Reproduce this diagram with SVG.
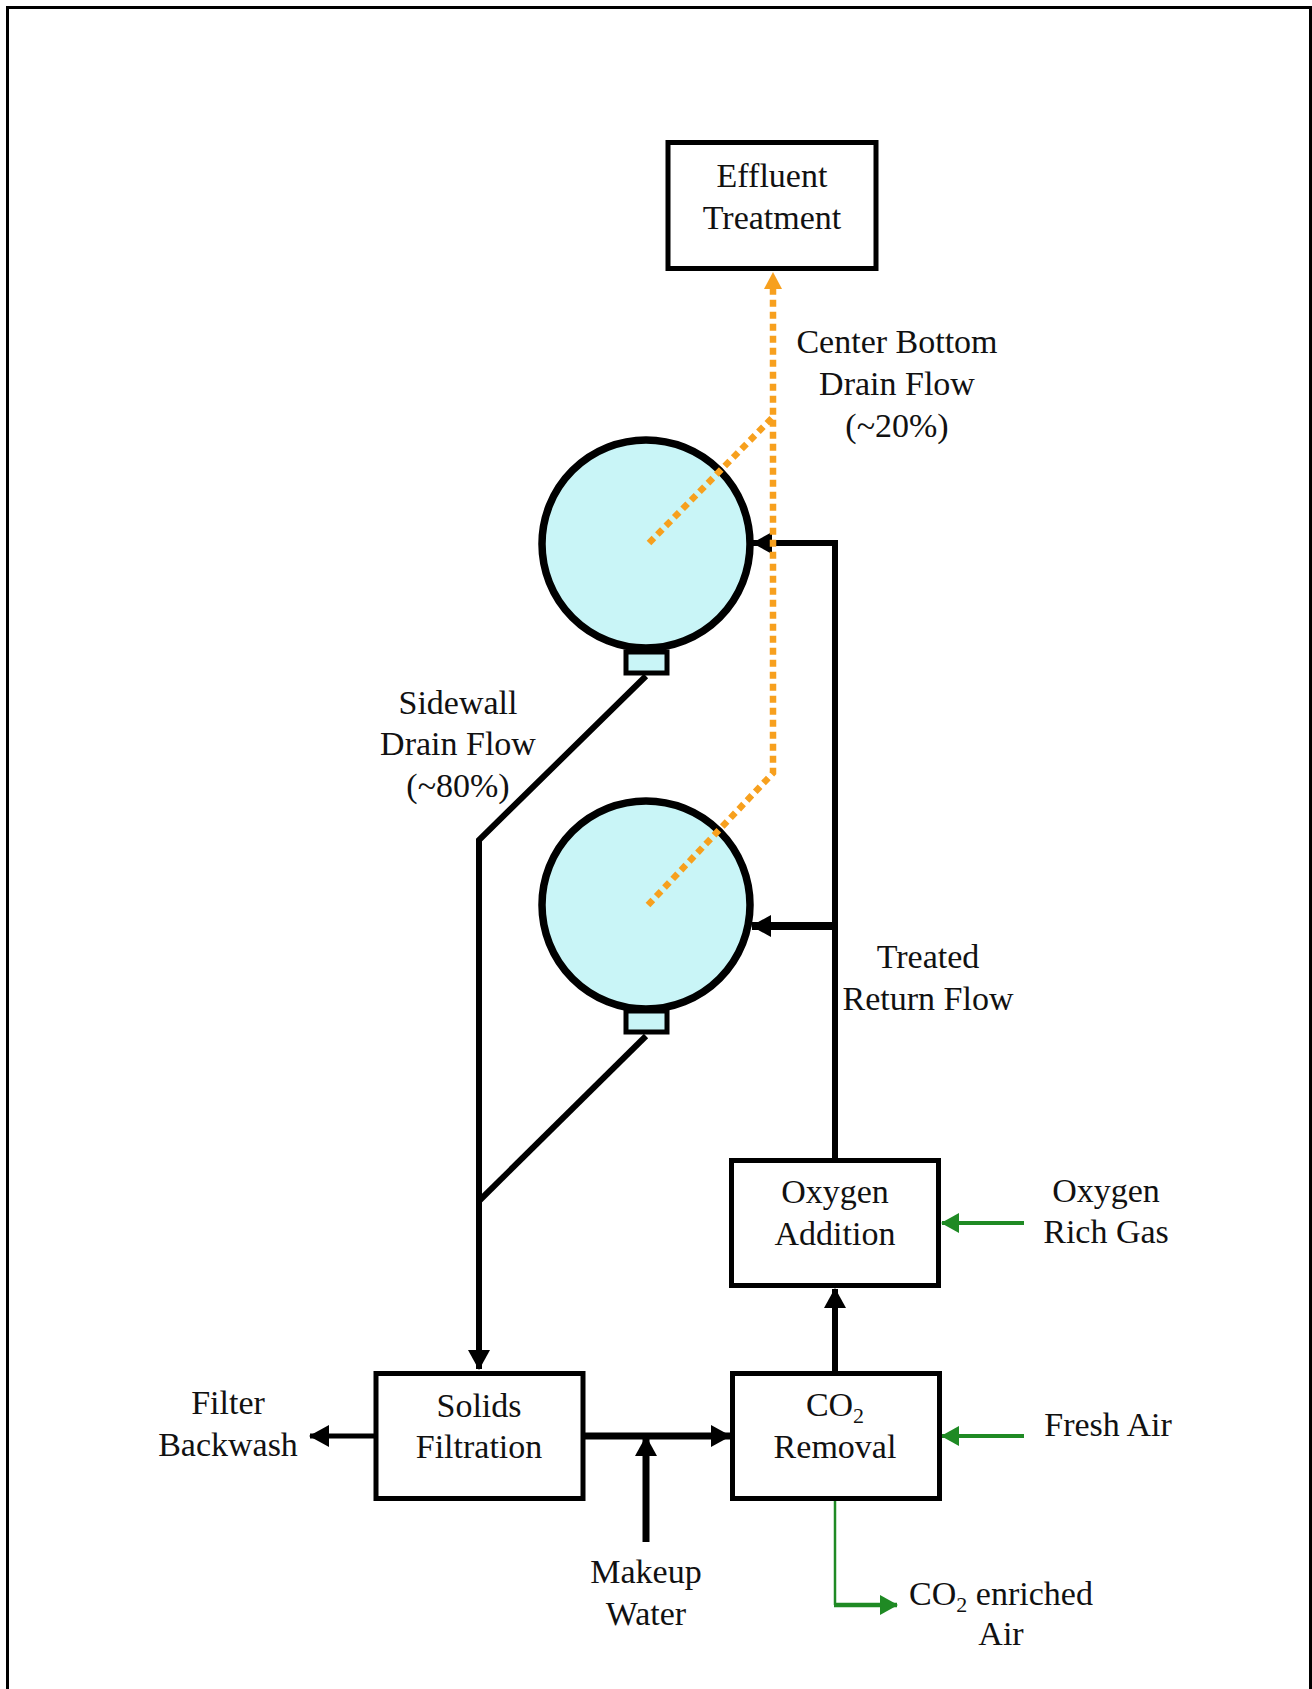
<svg xmlns="http://www.w3.org/2000/svg" width="1312" height="1689" viewBox="0 0 1312 1689">
<style>
  text { font-family: "Liberation Serif", "Times New Roman", serif; font-size: 34px; fill: #111; text-anchor: middle; }
  .box { fill: #fff; stroke: #000; stroke-width: 5; }
  .tank { fill: #C9F5F7; stroke: #000; stroke-width: 7.5; }
  .port { fill: #C9F5F7; stroke: #000; stroke-width: 5; }
  .flow { fill: none; stroke: #000; stroke-linejoin: miter; }
  .gas { fill: none; stroke: #1F8A24; }
  .drain { fill: none; stroke: #F7A01E; stroke-width: 6.5; stroke-dasharray: 7 5; }
  .sub { font-size: 22px; }
</style>
<defs>
  <marker id="ah" viewBox="0 0 20 22" refX="19" refY="11" markerWidth="20" markerHeight="22" markerUnits="userSpaceOnUse" orient="auto">
    <path d="M0,0 L20,11 L0,22 z" fill="#000"/>
  </marker>
  <marker id="ahg" viewBox="0 0 18 20" refX="17" refY="10" markerWidth="18" markerHeight="20" markerUnits="userSpaceOnUse" orient="auto">
    <path d="M0,0 L18,10 L0,20 z" fill="#1F8A24"/>
  </marker>
</defs>

<path d="M7.5,1700 V7.5 H1310.5 V1700" fill="none" stroke="#000" stroke-width="3"/>

<g id="connectors">
  <path class="flow" stroke-width="6" d="M646,676 L479,840 V1369" marker-end="url(#ah)"/>
  <path class="flow" stroke-width="6" d="M646,1036 L480,1200"/>
  <path class="flow" stroke-width="5" d="M374,1436 H310" marker-end="url(#ah)"/>
  <path class="flow" stroke-width="7" d="M585,1436 H730" marker-end="url(#ah)"/>
  <path class="flow" stroke-width="7" d="M646,1542 V1437" marker-end="url(#ah)"/>
  <path class="flow" stroke-width="6" d="M835,1371 V1289" marker-end="url(#ah)"/>
  <path class="flow" stroke-width="6" d="M835,1158 V543 H753" marker-end="url(#ah)"/>
  <path class="flow" stroke-width="8" d="M835,926 H752" marker-end="url(#ah)"/>
  <path class="gas" stroke-width="4" d="M1024,1223 H942" marker-end="url(#ahg)"/>
  <path class="gas" stroke-width="4" d="M1024,1436 H942" marker-end="url(#ahg)"/>
  <path class="gas" stroke-width="2.5" d="M835,1501 V1605"/>
  <path class="gas" stroke-width="4.5" d="M834,1605 H897" marker-end="url(#ahg)"/>
</g>

<g id="tank1">
  <circle class="tank" cx="646" cy="544" r="104"/>
  <rect class="port" x="626" y="652" width="41" height="21"/>
</g>
<g id="tank2">
  <circle class="tank" cx="646" cy="905" r="104"/>
  <rect class="port" x="626" y="1011" width="41" height="21"/>
</g>

<g id="drains">
  <path class="drain" d="M649,543 L773,417"/>
  <path class="drain" d="M648,905 L773,773 V289"/>
  <path d="M773,272 L764,289 L782,289 z" fill="#F7A01E"/>
</g>

<g id="effluent-treatment">
  <rect class="box" x="668" y="142.5" width="208" height="126"/>
  <text x="772" y="187">Effluent</text>
  <text x="772" y="229">Treatment</text>
</g>
<g id="oxygen-addition">
  <rect class="box" x="731.5" y="1160.5" width="207" height="125"/>
  <text x="835" y="1203">Oxygen</text>
  <text x="835" y="1245">Addition</text>
</g>
<g id="solids-filtration">
  <rect class="box" x="376" y="1373.5" width="207" height="125"/>
  <text x="479" y="1417">Solids</text>
  <text x="479" y="1458">Filtration</text>
</g>
<g id="co2-removal">
  <rect class="box" x="732.5" y="1373.5" width="207" height="125"/>
  <text x="835" y="1416">CO<tspan class="sub" dy="7">2</tspan></text>
  <text x="835" y="1458">Removal</text>
</g>

<g id="labels">
  <text x="897" y="353">Center Bottom</text>
  <text x="897" y="395">Drain Flow</text>
  <text x="897" y="437">(~20%)</text>
  <text x="458" y="714">Sidewall</text>
  <text x="458" y="755">Drain Flow</text>
  <text x="458" y="797">(~80%)</text>
  <text x="928" y="968">Treated</text>
  <text x="928" y="1010">Return Flow</text>
  <text x="1106" y="1202">Oxygen</text>
  <text x="1106" y="1243">Rich Gas</text>
  <text x="228" y="1414">Filter</text>
  <text x="228" y="1456">Backwash</text>
  <text x="1108" y="1436">Fresh Air</text>
  <text x="646" y="1583">Makeup</text>
  <text x="646" y="1625">Water</text>
  <text x="1001" y="1605">CO<tspan class="sub" dy="7">2</tspan><tspan dy="-7"> enriched</tspan></text>
  <text x="1001" y="1645">Air</text>
</g>
</svg>
